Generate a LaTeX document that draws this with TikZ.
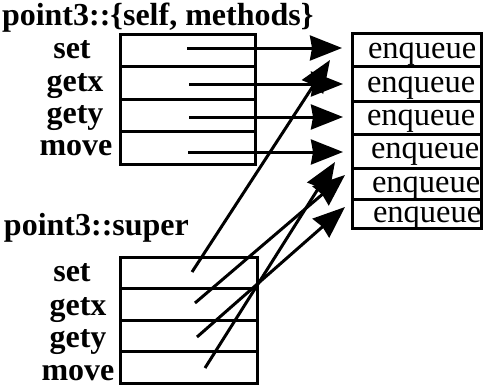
\documentclass[tikz,border=0pt]{standalone}
\usepackage{fontspec}
\setmainfont{Liberation Serif}
\usetikzlibrary{arrows.meta}
\begin{document}
\begin{tikzpicture}[x=1pt,y=-1pt,
  every node/.style={inner sep=0pt,outer sep=0pt},
  heading/.style={font=\fontsize{32}{32}\selectfont\bfseries,anchor=base west},
  slotname/.style={font=\fontsize{32}{32}\selectfont\bfseries,anchor=base},
  cell/.style={draw,line width=3pt,rectangle,anchor=north west},
  entry/.style={font=\fontsize{32.5}{32}\selectfont,anchor=base west},
  ptr/.style={line width=3pt,-{Stealth[length=32pt,width=25pt,inset=2pt]}}]
\useasboundingbox (0,0) rectangle (483,386);

% headings
\node[heading] (hself) at (2,25) {point3::\{self, methods\}};
\node[heading] (hsuper) at (4,235) {point3::super};

% self/methods table
\foreach \i/\y in {1/34,2/66.5,3/99,4/131.5}
  \node[cell,minimum width=135pt,minimum height=32.5pt] (t\i) at (120,\y) {};
% super table
\foreach \i/\y in {1/257,2/288.5,3/320,4/351.5}
  \node[cell,minimum width=137pt,minimum height=31.5pt] (b\i) at (120,\y) {};
% enqueue column
\foreach \i/\y/\h in {1/33.3/32.7,2/66/35,3/101/33,4/134/34,5/168/31,6/199/29}
  \node[cell,minimum width=129pt,minimum height=\h pt] (e\i) at (352,\y) {};

% slot names
\node[slotname] (ts) at (72,58) {set};
\node[slotname] (tx) at (75,91) {getx};
\node[slotname] (ty) at (75,123) {gety};
\node[slotname] (tm) at (76,155) {move};
\node[slotname] (bs) at (72,281) {set};
\node[slotname] (bx) at (78,315) {getx};
\node[slotname] (by) at (78,347) {gety};
\node[slotname] (bm) at (78,380) {move};

% enqueue entries
\node[entry] (q1) at (368,58) {enqueue};
\node[entry] (q2) at (367,92) {enqueue};
\node[entry] (q3) at (367,125) {enqueue};
\node[entry] (q4) at (371,158) {enqueue};
\node[entry] (q5) at (372,192) {enqueue};
\node[entry] (q6) at (373,222) {enqueue};

% pointer origins and targets
\coordinate (ts0) at (187,48);
\coordinate (tx0) at (189,84);
\coordinate (ty0) at (189,117);
\coordinate (tm0) at (188,152);
\coordinate (ts1) at (342,48);
\coordinate (tx1) at (343,84);
\coordinate (ty1) at (343,117);
\coordinate (tm1) at (343,152);
\coordinate (bs0) at (192,272);
\coordinate (bx0) at (195,303);
\coordinate (by0) at (197,337);
\coordinate (bm0) at (205,368);
\coordinate (bs1) at (330,60);
\coordinate (bx1) at (345,175);
\coordinate (by1) at (345,207);
\coordinate (bm1) at (335,162);

% pointers
\draw[ptr] (ts0) -- (ts1);
\draw[ptr] (tx0) -- (tx1);
\draw[ptr] (ty0) -- (ty1);
\draw[ptr] (tm0) -- (tm1);
\draw[ptr] (bs0) -- (bs1);
\draw[ptr] (bx0) -- (bx1);
\draw[ptr] (by0) -- (by1);
\draw[ptr] (bm0) -- (bm1);
\end{tikzpicture}
\end{document}
